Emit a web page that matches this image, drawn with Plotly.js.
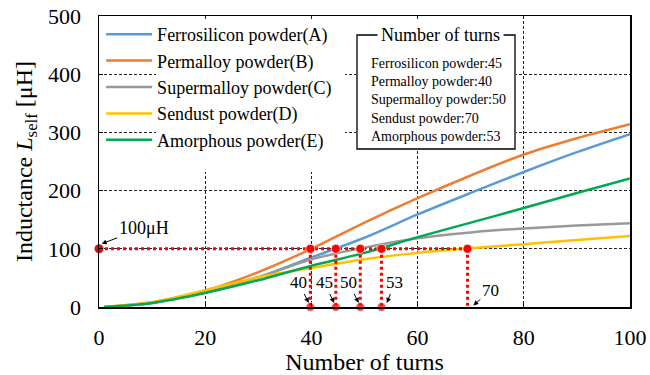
<!DOCTYPE html>
<html>
<head>
<meta charset="utf-8">
<script src="https://cdn.plot.ly/plotly-3.0.1.min.js"></script>
<style>html,body{margin:0;padding:0;background:#fff;}#chart{width:650px;height:375px;}</style>
</head>
<body>
<div id="chart"></div>
<script>
// ---- data ----
const turns        = [1, 10, 20, 30, 40, 50, 60, 70, 80, 90, 100];
const ferrosilicon = [0, 7, 26, 51, 85, 119, 159, 196, 232, 266, 297];
const permalloy    = [0, 8, 28, 60, 100, 145, 187, 226, 262, 290, 314];
const supermalloy  = [0, 7, 27, 51, 82, 102, 118, 128, 135, 140, 144];
const sendust      = [0, 8, 29, 51, 67, 82, 93, 101, 108, 115, 122];
const amorphous    = [0, 7, 24, 46, 71, 93, 120, 145, 170, 196, 221];

const materials    = ['Ferrosilicon powder', 'Permalloy powder', 'Supermalloy powder', 'Sendust powder', 'Amorphous powder'];
const legendTags   = ['(A)', '(B)', '(C)', '(D)', '(E)'];
const boxTurns     = [45, 40, 50, 70, 53];

const targetL      = 100;                       // µH
const crossTurns   = [39.8, 44.6, 49.2, 53.2, 69.4];
const crossLabels  = ['40', '45', '50', '53', '70'];
const bottomDot    = [true, true, true, true, false];

const xTicks = [0, 20, 40, 60, 80, 100];
const yTicks = [0, 100, 200, 300, 400, 500];

// ---- styling ----
const FONT = '"Liberation Serif", serif';
const colors = ['#5B9BD5', '#ED7D31', '#999999', '#FFC000', '#00A84F'];
const series = [ferrosilicon, permalloy, supermalloy, sendust, amorphous];

const W = 650, H = 375;
const M = {l: 99, r: 20, t: 16, b: 68};
const pw = W - M.l - M.r, ph = H - M.t - M.b;
const px = x => (x - M.l) / pw;
const py = y => (H - M.b - y) / ph;
// pixel -> data helpers (x range 0..100, y range 0..500)
const dx = x => px(x) * 100;
const dy = y => py(y) * 500;

const traces = series.map((s, i) => ({
  type: 'scatter', mode: 'lines', x: turns, y: s,
  name: materials[i] + legendTags[i], legendgroup: 'g' + i,
  line: {color: colors[i], width: 2.5, shape: 'spline', smoothing: 0.8},
  hoverinfo: 'skip'
}));

// red dotted guide: horizontal line at target and vertical drops
const hx = [0].concat(crossTurns), hy = hx.map(() => targetL);
traces.push({
  type: 'scatter', mode: 'lines+markers', x: hx, y: hy, showlegend: false,
  line: {color: '#FF0000', width: 3, dash: 'dot'},
  marker: {color: '#FF0000', size: 9}, cliponaxis: false, hoverinfo: 'skip'
});
crossTurns.forEach((t, i) => {
  traces.push({
    type: 'scatter', mode: 'lines+markers', x: [t, t], y: [targetL, 0], showlegend: false,
    line: {color: '#FF0000', width: 3, dash: 'dot'},
    marker: {color: '#FF0000', size: bottomDot[i] ? [9, 9] : [9, 0]},
    cliponaxis: false, hoverinfo: 'skip'
  });
});

const annFont = {family: FONT, size: 17, color: '#000'};
const arrowDx = [-0.3, -0.3, -0.3, 1.0, 1.1];
const arrowY  = [7, 7, 7, 7, 2.5];
const textAx  = [-10, -10, -10, 8, 17];
const textAy  = [-20, -20, -20, -20, -15];
const annotations = crossTurns.map((t, i) => ({
  x: t + arrowDx[i], y: arrowY[i], xref: 'x', yref: 'y',
  text: crossLabels[i], font: annFont, showarrow: true,
  ax: textAx[i], ay: textAy[i], arrowhead: 2, arrowsize: 1, arrowwidth: 1, arrowcolor: '#000'
}));
annotations.push({
  x: 0.5, y: targetL + 8.6, xref: 'x', yref: 'y', text: targetL + 'μH',
  font: {family: FONT, size: 18, color: '#000'}, showarrow: true,
  ax: 42, ay: -16, arrowhead: 2, arrowsize: 1, arrowwidth: 1, arrowcolor: '#000'
});
// "Number of turns" box
annotations.push({
  xref: 'paper', yref: 'paper', x: px(440), y: py(35), xanchor: 'center', yanchor: 'middle',
  text: 'Number of turns', font: {family: FONT, size: 18, color: '#000'},
  showarrow: false, bgcolor: '#fff', borderpad: 3
});
annotations.push({
  xref: 'paper', yref: 'paper', x: px(369), y: py(100), xanchor: 'left', yanchor: 'middle', align: 'left',
  text: materials.map((m, i) => m + ':' + boxTurns[i]).join('<br>'),
  font: {family: FONT, size: 14, color: '#000'}, showarrow: false
});

const shapes = [
  {type: 'rect', xref: 'x', yref: 'y', x0: dx(156), x1: dx(345), y0: dy(172), y1: dy(20),
   fillcolor: '#fff', line: {width: 0}, layer: 'between'},
  {type: 'rect', xref: 'x', yref: 'y', x0: dx(356), x1: dx(516), y0: dy(149), y1: dy(20),
   fillcolor: '#fff', line: {width: 0}, layer: 'between'},
  {type: 'rect', xref: 'x', yref: 'y', x0: dx(357), x1: dx(515), y0: dy(149), y1: dy(35),
   fillcolor: 'rgba(0,0,0,0)', line: {color: '#000', width: 1.3}, layer: 'above'}
];

const axisCommon = {
  showline: true, linecolor: '#000', linewidth: 1.5, mirror: true,
  showgrid: true, gridcolor: '#222', gridwidth: 1, griddash: '3px,2px',
  zeroline: false, ticks: 'inside', ticklen: 4, tickcolor: '#000', tickwidth: 1,
  tickfont: {family: FONT, size: 22, color: '#000'}
};

const layout = {
  width: W, height: H, margin: M, paper_bgcolor: '#fff', plot_bgcolor: '#fff',
  font: {family: FONT, color: '#000'},
  xaxis: Object.assign({}, axisCommon, {
    range: [0, 100], tickvals: xTicks, ticklabelstandoff: 10,
    title: {text: 'Number of turns', font: {family: FONT, size: 24, color: '#000'}, standoff: 2}
  }),
  yaxis: Object.assign({}, axisCommon, {
    range: [0, 500], tickvals: yTicks, ticklabelstandoff: 12,
    title: {text: 'Inductance <i>L</i><sub>self</sub> [μH]', font: {family: FONT, size: 24, color: '#000'}, standoff: 8}
  }),
  showlegend: true,
  legend: {
    x: 0.004, y: 1, xanchor: 'left', yanchor: 'top', bgcolor: 'rgba(0,0,0,0)', borderwidth: 0,
    font: {family: FONT, size: 18, color: '#000'}, itemwidth: 46, tracegroupgap: 0
  },
  annotations: annotations, shapes: shapes
};

Plotly.newPlot('chart', traces, layout, {staticPlot: true, displayModeBar: false});
</script>
</body>
</html>
